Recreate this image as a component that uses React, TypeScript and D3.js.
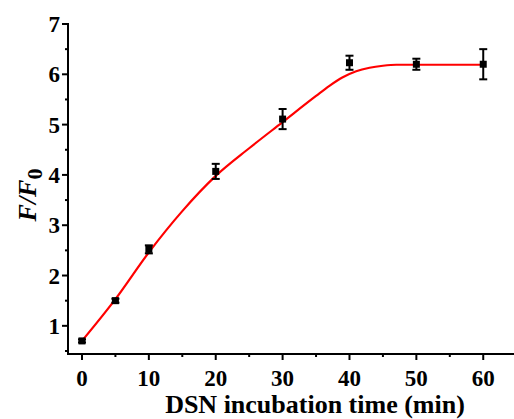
import React from "react";
import * as d3 from "d3";

const timeMin = [0, 5, 10, 20, 30, 40, 50, 60];
const ratio = [0.7, 1.5, 2.52, 4.07, 5.11, 6.23, 6.2, 6.2];
const errs = [0.03, 0.04, 0.08, 0.15, 0.2, 0.14, 0.11, 0.3];

const fitX = [0, 5, 10, 15, 20, 25, 30, 35, 37, 39, 41, 43, 45, 47, 50, 60];
const fitY = [0.7, 1.53, 2.46, 3.28, 3.98, 4.53, 5.05, 5.57, 5.77, 5.94, 6.06, 6.13, 6.17, 6.19, 6.19, 6.19];

const xMajor = [0, 10, 20, 30, 40, 50, 60];
const xMinor = [5, 15, 25, 35, 45, 55];
const yMajor = [1, 2, 3, 4, 5, 6, 7];
const yMinor = [0.5, 1.5, 2.5, 3.5, 4.5, 5.5, 6.5];

const W = 514;
const H = 419;
const axL = 68;
const axB = 354;

export default function App() {
  const x = d3.scaleLinear().domain([-2.09, 64.6]).range([axL, W]);
  const y = d3.scaleLinear().domain([0.44, 7]).range([axB, 24]);
  const line = d3
    .line<number>()
    .x((d, i) => x(fitX[i]))
    .y((d) => y(d))
    .curve(d3.curveMonotoneX);
  const font = "'Liberation Serif', 'Times New Roman', serif";
  return (
    <svg
      width={W}
      height={H}
      style={{ position: "absolute", left: 0, top: 0, background: "#fff" }}
    >
      {/* axes */}
      <line x1={axL} x2={W} y1={axB} y2={axB} stroke="#000" strokeWidth={2} />
      <line x1={axL} x2={axL} y1={y(7) - 1} y2={axB + 1} stroke="#000" strokeWidth={2} />
      {xMajor.map((v) => (
        <g key={"xm" + v}>
          <line x1={x(v)} x2={x(v)} y1={axB} y2={axB + 6} stroke="#000" strokeWidth={2} />
          <text
            x={x(v)}
            y={386}
            textAnchor="middle"
            fontFamily={font}
            fontWeight="bold"
            fontSize={23}
          >
            {v}
          </text>
        </g>
      ))}
      {xMinor.map((v) => (
        <line key={"xn" + v} x1={x(v)} x2={x(v)} y1={axB} y2={axB + 3} stroke="#000" strokeWidth={2} />
      ))}
      {yMajor.map((v) => (
        <g key={"ym" + v}>
          <line x1={axL - 6} x2={axL} y1={y(v)} y2={y(v)} stroke="#000" strokeWidth={2} />
          <text
            x={60}
            y={y(v) + 8}
            textAnchor="end"
            fontFamily={font}
            fontWeight="bold"
            fontSize={23}
          >
            {v}
          </text>
        </g>
      ))}
      {yMinor.map((v) => (
        <line key={"yn" + v} x1={axL - 3} x2={axL} y1={y(v)} y2={y(v)} stroke="#000" strokeWidth={2} />
      ))}
      {/* fit curve */}
      <path d={line(fitY) || ""} fill="none" stroke="#ff0000" strokeWidth={2.2} />
      {/* data with error bars */}
      {timeMin.map((t, i) => {
        const cx = x(t);
        const cy = y(ratio[i]);
        const y1 = y(ratio[i] + errs[i]);
        const y2 = y(ratio[i] - errs[i]);
        return (
          <g key={"p" + t}>
            <line x1={cx} x2={cx} y1={y1} y2={y2} stroke="#000" strokeWidth={2} />
            <line x1={cx - 4} x2={cx + 4} y1={y1} y2={y1} stroke="#000" strokeWidth={2} />
            <line x1={cx - 4} x2={cx + 4} y1={y2} y2={y2} stroke="#000" strokeWidth={2} />
            <rect x={cx - 3.5} y={cy - 3.5} width={7} height={7} fill="#000" />
          </g>
        );
      })}
      {/* axis titles */}
      <text
        x={315}
        y={413}
        textAnchor="middle"
        fontFamily={font}
        fontWeight="bold"
        fontSize={26}
      >
        DSN incubation time (min)
      </text>
      <text
        transform={`translate(36,195) rotate(-90)`}
        textAnchor="middle"
        fontFamily={font}
        fontWeight="bold"
        fontStyle="italic"
        fontSize={26}
      >
        F/F
        <tspan fontStyle="normal" fontSize={22} dy={6}>
          0
        </tspan>
      </text>
    </svg>
  );
}
